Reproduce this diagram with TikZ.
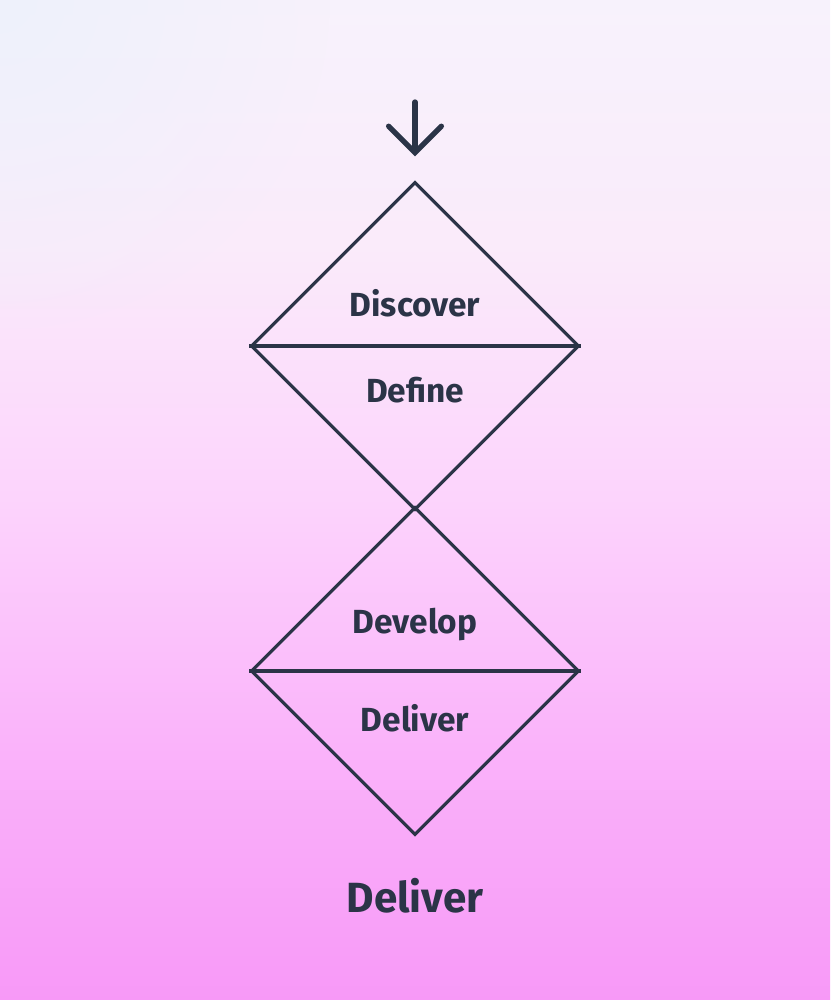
\documentclass[tikz,border=0pt]{standalone}
\usepackage{fontspec}
\setmainfont{Fira Sans}
\usetikzlibrary{shapes.geometric, arrows.meta, positioning, fadings}

\definecolor{ink}{HTML}{2B3447}
\definecolor{haze}{HTML}{EEF1FB}
\pgfdeclareverticalshading{bgfade}{100bp}{%
  rgb(0bp)=(0.97,0.58,0.97);
  rgb(25bp)=(0.97,0.60,0.97);
  rgb(37.5bp)=(0.98,0.70,0.98);
  rgb(50bp)=(0.99,0.83,0.99);
  rgb(62.5bp)=(0.98,0.92,0.98);
  rgb(75bp)=(0.97,0.95,0.99);
  rgb(100bp)=(0.97,0.95,0.99)}
\tikzfading[name=glow, inner color=transparent!0, outer color=transparent!100]

\begin{document}
\begin{tikzpicture}[
            x=0.01cm, y=-0.01cm,
            every node/.style={font=\bfseries, text=ink},
            phase/.style={
                    diamond,
                    draw=ink,
                    line width=0.9pt,
                    minimum width=3.28cm,
                    minimum height=3.28cm,
                    inner sep=0pt
                },
            label/.style={font=\bfseries\fontsize{9.5}{11}\selectfont},
            arrow/.style={
            -{Straight Barb[length=7.5pt,width=15pt,line cap=round]},
            line width=1.5pt,
            draw=ink,
            line cap=round
            }
            ]

            % Hintergrund
            \useasboundingbox (0,0) rectangle (830,1000);
            \begin{scope}
                \clip (0,0) rectangle (830,1000);
                \shade[shading=bgfade] (0,1000) rectangle (830,0);
                \fill[haze, path fading=glow] (0,0) circle (330);
            \end{scope}

            % Rauten
            \node (diverge) [phase] at (415,346) {};
            \node (converge) [phase] at (415,671) {};

            \draw [ink, line width=0.9pt] (diverge.west) -- (diverge.east);
            \draw [ink, line width=0.9pt] (converge.west) -- (converge.east);

            % Beschriftung
            \node (discover) [label] at (415,303) {Discover};
            \node (define) [label] at (415,390) {Define};
            \node (develop) [label] at (415,625) {Develop};
            \node (deliver) [label] at (415,718) {Deliver};
            \node (result) [font=\bfseries\fontsize{12}{14}\selectfont] at (415,896) {Deliver};

            % Eingangspfeil
            \coordinate (entry) at (415,102);
            \draw [arrow] (entry) -- ([yshift=0.24cm]diverge.north);

        \end{tikzpicture}
\end{document}
